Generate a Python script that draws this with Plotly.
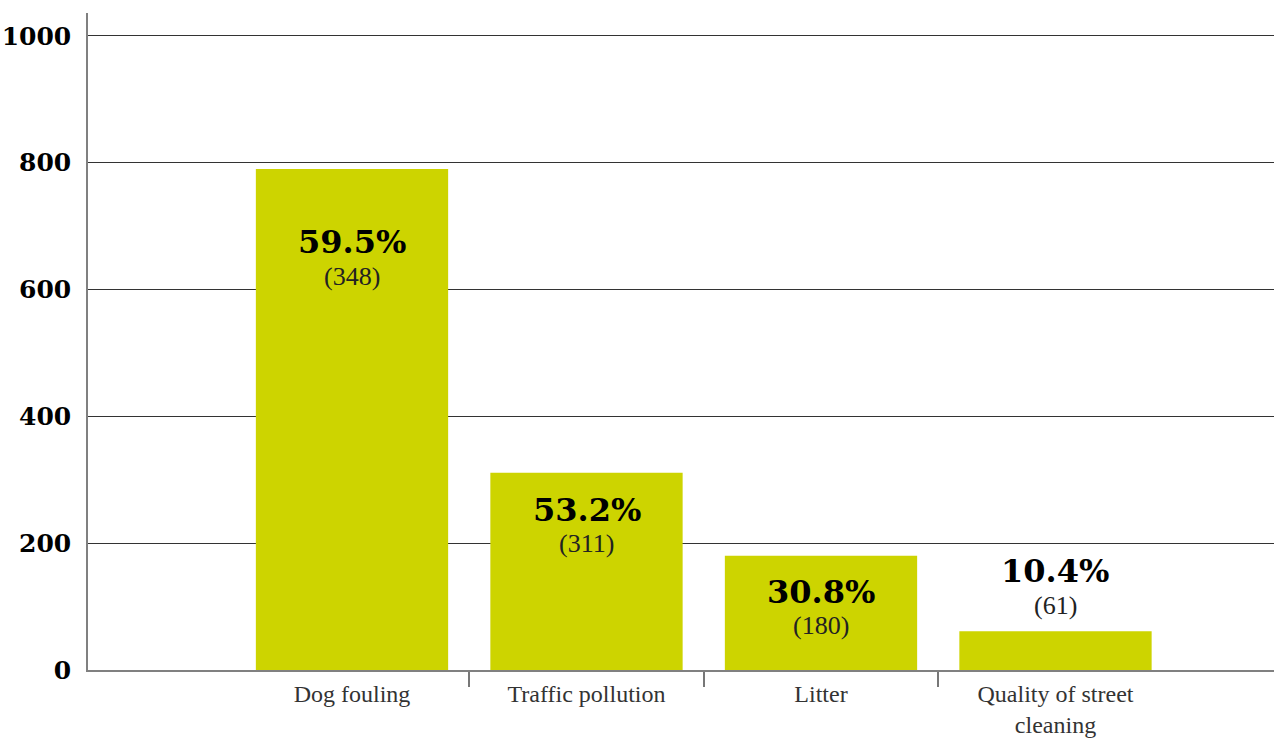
import plotly.graph_objects as go

# ---- data ----
categories = ["Dog fouling", "Traffic pollution", "Litter", "Quality of street<br>cleaning"]
bar_values = [790, 311, 180, 61]
pct_labels = ["59.5%", "53.2%", "30.8%", "10.4%"]
count_labels = ["(348)", "(311)", "(180)", "(61)"]
y_tickvals = [0, 200, 400, 600, 800, 1000]

# ---- style ----
BAR_COLOR = "#cdd400"
pct_shift = [-73, -37, -36, 60]      # px from bar top to pct label centre
count_gap = 34                       # px between pct label and count label

x_idx = list(range(len(categories)))

fig = go.Figure()
fig.add_trace(go.Bar(
    x=x_idx, y=bar_values, width=0.82,
    marker=dict(color=BAR_COLOR, line=dict(width=0)),
    hoverinfo="skip",
))

annotations = []
for i, (v, p, c) in enumerate(zip(bar_values, pct_labels, count_labels)):
    annotations.append(dict(
        x=i, y=v, xref="x", yref="y", text=p, showarrow=False,
        yanchor="middle", yshift=pct_shift[i],
        font=dict(family="DejaVu Serif", size=32, color="#000", weight="bold"),
    ))
    annotations.append(dict(
        x=i, y=v, xref="x", yref="y", text=c, showarrow=False,
        yanchor="middle", yshift=pct_shift[i] - count_gap,
        font=dict(family="Liberation Serif", size=26, color="#222"),
    ))

fig.update_layout(
    width=1274, height=747, autosize=False,
    margin=dict(l=88, r=0, t=13, b=77, autoexpand=False),
    plot_bgcolor="white", paper_bgcolor="white",
    showlegend=False,
    annotations=annotations,
    xaxis=dict(
        range=[-1.1258, 3.9318], automargin=False,
        tickmode="array", tickvals=x_idx, ticktext=categories,
        ticks="", showgrid=False, zeroline=False,
        showline=True, linecolor="#808080", linewidth=1.5,
        tickfont=dict(family="Liberation Serif", size=24, color="#333"),
        ticklabelstandoff=1,
        minor=dict(tickmode="array", tickvals=[0.5, 1.5, 2.5], ticks="outside",
                   ticklen=15, tickcolor="#777", tickwidth=1.5, showgrid=False),
        fixedrange=True,
    ),
    yaxis=dict(
        range=[0, 1036], automargin=False,
        tickmode="array", tickvals=y_tickvals,
        ticks="", showgrid=True, gridcolor="#333", gridwidth=1,
        zeroline=False, showline=True, linecolor="#808080", linewidth=1.5,
        tickfont=dict(family="DejaVu Serif", size=25, color="#000", weight="bold"),
        ticklabelstandoff=10,
        fixedrange=True,
    ),
)

post = (
    "document.documentElement.style.margin='0';"
    "document.body.style.margin='0';"
    "document.body.style.overflow='hidden';"
    "var gd=document.getElementById('{plot_id}');"
    "Plotly.relayout(gd,{width:1274,height:747});"
)

fig.write_html("out.html", config={"displayModeBar": False, "responsive": False},
               post_script=post)
